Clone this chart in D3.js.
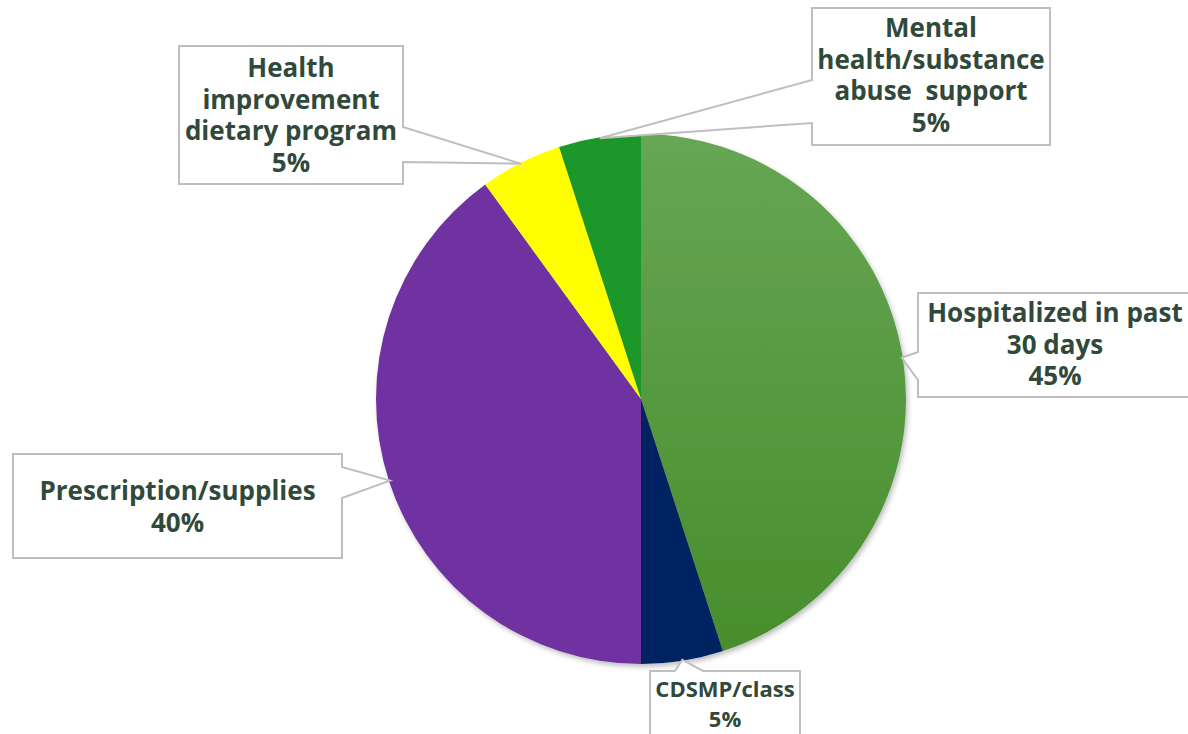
<!DOCTYPE html>
<html>
<head>
<meta charset="utf-8">
<script src="https://cdn.jsdelivr.net/npm/d3@7"></script>
<style>
  html, body { margin: 0; padding: 0; background: #ffffff; }
  svg { display: block; }
  text { font-family: "Open Sans", "DejaVu Sans", sans-serif; font-weight: 700; white-space: pre; }
</style>
</head>
<body>
<svg id="chart" width="1188" height="734"></svg>
<script>
// ---- data ----
const categories = ["Hospitalized in past 30 days", "CDSMP/class", "Prescription/supplies",
                    "Health improvement dietary program", "Mental health/substance abuse support"];
const values = [45, 5, 40, 5, 5];
const labelLines = [
  ["Hospitalized in past", "30 days"],
  ["CDSMP/class"],
  ["Prescription/supplies"],
  ["Health", "improvement", "dietary program"],
  ["Mental", "health/substance", "abuse  support"]
];
const colors = ["url(#gradHosp)", "#002060", "#7030a0", "#ffff00", "#1a9729"];

// ---- layout ----
const W = 1188, H = 734;
const cx = 641, cy = 399, R = 265;
const callouts = [
  { x: 918, y: 293, w: 274, h: 104, side: "left",  a: 352, b: 380, base: 322, step: 31.5, size: 26 },
  { x: 650, y: 671, w: 150, h: 80,  side: "top",   a: 675, b: 703, base: 697, step: 30,   size: 22 },
  { x: 13,  y: 454, w: 329, h: 104, side: "right", a: 467, b: 498, base: 500, step: 32,   size: 26 },
  { x: 179, y: 46,  w: 224, h: 138, side: "right", a: 127, b: 162, base: 77,  step: 31.7, size: 26 },
  { x: 812, y: 8,   w: 238, h: 137, side: "left",  a: 80,  b: 123, base: 37,  step: 31.7, size: 26 }
];

const svg = d3.select("#chart");
const defs = svg.append("defs");
const g1 = defs.append("linearGradient").attr("id", "gradHosp")
  .attr("gradientUnits", "userSpaceOnUse")
  .attr("x1", 0).attr("y1", -R).attr("x2", 0).attr("y2", R);
g1.append("stop").attr("offset", "0%").attr("stop-color", "#66a654");
g1.append("stop").attr("offset", "100%").attr("stop-color", "#478d2b");
const f = defs.append("filter").attr("id", "shadow").attr("x", "-10%").attr("y", "-10%").attr("width", "120%").attr("height", "120%");
f.append("feDropShadow").attr("dx", 2).attr("dy", 3).attr("stdDeviation", 2.5)
  .attr("flood-color", "#000").attr("flood-opacity", 0.25);

const pie = d3.pie().sort(null).value(d => d);
const arcs = pie(values);
const arc = d3.arc().innerRadius(0).outerRadius(R);
const edgeArc = d3.arc().innerRadius(R - 1).outerRadius(R - 1);

const pieG = svg.append("g").attr("transform", `translate(${cx},${cy})`).attr("filter", "url(#shadow)");
pieG.selectAll("path").data(arcs).join("path")
  .attr("d", arc)
  .attr("fill", (d, i) => colors[i]);

const pct = d3.format(".0%");
const total = d3.sum(values);

arcs.forEach((d, i) => {
  const c = callouts[i];
  const [ex, ey] = edgeArc.centroid(d);
  const tx = cx + ex, ty = cy + ey;
  const p = d3.path();
  p.moveTo(c.x, c.y);
  if (c.side === "top") { p.lineTo(c.a, c.y); p.lineTo(tx, ty); p.lineTo(c.b, c.y); }
  p.lineTo(c.x + c.w, c.y);
  if (c.side === "right") { p.lineTo(c.x + c.w, c.a); p.lineTo(tx, ty); p.lineTo(c.x + c.w, c.b); }
  p.lineTo(c.x + c.w, c.y + c.h);
  p.lineTo(c.x, c.y + c.h);
  if (c.side === "left") { p.lineTo(c.x, c.b); p.lineTo(tx, ty); p.lineTo(c.x, c.a); }
  p.closePath();
  svg.append("path").attr("d", p.toString())
    .attr("fill", "#ffffff").attr("stroke", "#bfbfbf").attr("stroke-width", 2)
    .attr("stroke-linejoin", "miter");

  const lines = labelLines[i].concat([pct(values[i] / total)]);
  const t = svg.append("text").attr("text-anchor", "middle")
    .attr("fill", "#31493a").attr("font-size", c.size);
  lines.forEach((ln, j) => {
    t.append("tspan").attr("x", c.x + c.w / 2).attr("y", c.base + j * c.step).text(ln);
  });
});
</script>
</body>
</html>
